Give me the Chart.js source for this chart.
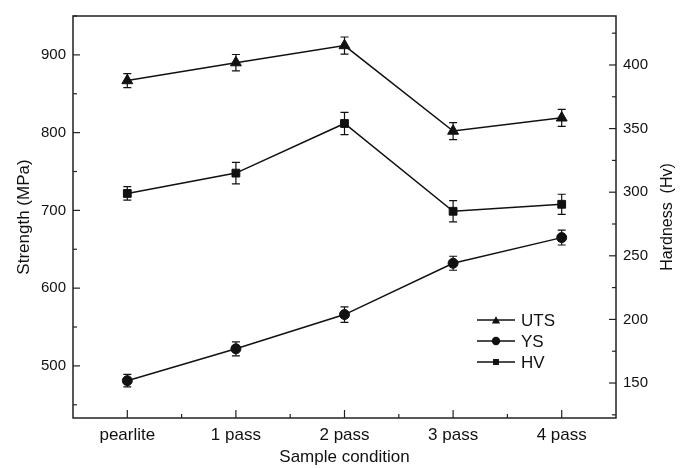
<!DOCTYPE html>
<html>
<head>
<meta charset="utf-8">
<script src="https://cdn.jsdelivr.net/npm/chart.js@4/dist/chart.umd.min.js"></script>
<style>
  html, body { margin: 0; padding: 0; background: #fff; }
  canvas { display: block; }
</style>
</head>
<body>
<canvas id="c" width="691" height="468"></canvas>
<script>
const categories = ['pearlite', '1 pass', '2 pass', '3 pass', '4 pass'];
const seriesNames = ['UTS', 'YS', 'HV'];
const utsValues = [867, 890, 912, 802, 819];
const utsErrors = [9, 10.5, 11, 11, 11];
const ysValues = [481, 522, 566, 632, 665];
const ysErrors = [8, 9, 10, 9, 9.5];
const hvValues = [299, 315, 354, 285, 290.5];
const hvErrors = [5.3, 8.5, 8.8, 8.4, 7.9];
const strengthTickStep = 100;
const hardnessTickStep = 50;
const rightTitle = 'Hardness  (Hv)';

const FONT = '"Liberation Sans", Arial, Helvetica, sans-serif';
const INK = '#111';

function markerPath(ctx, style, x, y, r) {
  ctx.beginPath();
  if (style === 'triangle') {
    ctx.moveTo(x, y - r);
    ctx.lineTo(x + r * 0.866, y + r * 0.5);
    ctx.lineTo(x - r * 0.866, y + r * 0.5);
    ctx.closePath();
  } else if (style === 'circle') {
    ctx.arc(x, y, r, 0, Math.PI * 2);
  } else {
    const s = r * Math.SQRT1_2;
    ctx.rect(x - s, y - s, 2 * s, 2 * s);
  }
}

const errorBars = {
  id: 'errorBars',
  beforeDatasetsDraw(chart) {
    const {ctx, scales} = chart;
    ctx.save();
    ctx.strokeStyle = INK;
    ctx.lineWidth = 1.2;
    chart.data.datasets.forEach(ds => {
      const ys = scales[ds.yAxisID];
      ds.data.forEach((v, i) => {
        const e = ds.errors[i];
        const x = scales.x.getPixelForValue(i);
        const y1 = ys.getPixelForValue(v + e);
        const y2 = ys.getPixelForValue(v - e);
        ctx.beginPath();
        ctx.moveTo(x, y1); ctx.lineTo(x, y2);
        ctx.moveTo(x - 4, y1); ctx.lineTo(x + 4, y1);
        ctx.moveTo(x - 4, y2); ctx.lineTo(x + 4, y2);
        ctx.stroke();
      });
    });
    ctx.restore();
  }
};

const axisDecor = {
  id: 'axisDecor',
  afterDraw(chart) {
    const {ctx, chartArea: {left, right, top, bottom}, scales} = chart;
    ctx.save();
    ctx.strokeStyle = '#222';
    ctx.lineWidth = 1.5;
    ctx.strokeRect(left, top, right - left, bottom - top);
    ctx.lineWidth = 1.2;
    const seg = (x1, y1, x2, y2) => { ctx.beginPath(); ctx.moveTo(x1, y1); ctx.lineTo(x2, y2); ctx.stroke(); };
    const vert = (sc, edge, dir) => {
      const vals = sc.ticks.map(t => t.value);
      vals.forEach(v => { const p = sc.getPixelForValue(v); seg(edge, p, edge + dir * 7, p); });
      const step = vals[1] - vals[0];
      for (let v = vals[0] - step / 2; v <= sc.max + 1e-9; v += step) {
        if (v < sc.min) continue;
        const p = sc.getPixelForValue(v);
        seg(edge, p, edge + dir * 4, p);
      }
    };
    vert(scales.y, left, 1);
    vert(scales.y1, right, -1);
    const xs = scales.x;
    for (let i = 0; i < categories.length; i++) {
      const p = xs.getPixelForValue(i);
      seg(p, bottom, p, bottom - 8);
      if (i > 0) {
        const m = (p + xs.getPixelForValue(i - 1)) / 2;
        seg(m, bottom, m, bottom - 4);
      }
    }
    // right axis title, reading bottom-to-top like the left one
    ctx.fillStyle = INK;
    ctx.font = '16px ' + FONT;
    ctx.textAlign = 'center';
    ctx.textBaseline = 'middle';
    ctx.translate(668, (top + bottom) / 2);
    ctx.rotate(-Math.PI / 2);
    ctx.fillText(rightTitle, 0, 0);
    ctx.restore();
  }
};

const customLegend = {
  id: 'customLegend',
  afterDraw(chart) {
    const {ctx} = chart;
    ctx.save();
    ctx.font = '17px ' + FONT;
    ctx.textBaseline = 'middle';
    ctx.textAlign = 'left';
    chart.data.datasets.forEach((ds, i) => {
      const y = 320 + i * 21;
      ctx.strokeStyle = INK;
      ctx.lineWidth = 1.3;
      ctx.beginPath(); ctx.moveTo(477, y); ctx.lineTo(515, y); ctx.stroke();
      ctx.fillStyle = INK;
      markerPath(ctx, ds.pointStyle, 496, y + (ds.pointStyle === 'triangle' ? 1 : 0), ds.pointStyle === 'triangle' ? 4.8 : 4.2);
      ctx.fill();
      ctx.fillStyle = INK;
      ctx.fillText(ds.label, 521, y + 1);
    });
    ctx.restore();
  }
};

const mk = (label, data, errors, axis, style, r) => ({
  label, data, errors, yAxisID: axis,
  borderColor: INK, borderWidth: 1.5, backgroundColor: INK,
  pointStyle: style, pointRadius: r, pointBackgroundColor: INK, pointBorderColor: INK,
  pointBorderWidth: 1, tension: 0, fill: false
});

new Chart(document.getElementById('c'), {
  type: 'line',
  data: {
    labels: categories,
    datasets: [
      mk(seriesNames[0], utsValues, utsErrors, 'y', 'triangle', 6.3),
      mk(seriesNames[1], ysValues, ysErrors, 'y', 'circle', 5),
      mk(seriesNames[2], hvValues, hvErrors, 'y1', 'rect', 5.5)
    ]
  },
  options: {
    responsive: false,
    animation: false,
    devicePixelRatio: 1,
    layout: { padding: { top: 15, left: 0, right: 0, bottom: 0 } },
    plugins: { legend: { display: false }, tooltip: { enabled: false } },
    scales: {
      x: {
        type: 'category', offset: true,
        grid: { display: false, drawTicks: false }, border: { display: false },
        ticks: { color: INK, font: { family: FONT, size: 17 }, padding: 7, maxRotation: 0, autoSkip: false },
        title: { display: true, text: 'Sample condition', color: INK, font: { family: FONT, size: 17 }, padding: { top: 0, bottom: 0 } },
        afterFit: s => { s.height = 50; }
      },
      y: {
        position: 'left', min: 433, max: 950,
        grid: { display: false, drawTicks: false }, border: { display: false },
        ticks: { stepSize: strengthTickStep, includeBounds: false, color: INK, font: { family: FONT, size: 15 }, padding: 7 },
        title: { display: true, text: 'Strength (MPa)', color: INK, font: { family: FONT, size: 17 }, padding: { top: 14, bottom: 0 } },
        afterFit: s => { s.width = 73; }
      },
      y1: {
        position: 'right', min: 122.5, max: 438.5,
        grid: { display: false, drawTicks: false }, border: { display: false },
        ticks: { stepSize: hardnessTickStep, includeBounds: false, color: INK, font: { family: FONT, size: 15 }, padding: 7 },
        title: { display: false },
        afterFit: s => { s.width = 75; }
      }
    }
  },
  plugins: [errorBars, axisDecor, customLegend]
});
</script>
</body>
</html>
